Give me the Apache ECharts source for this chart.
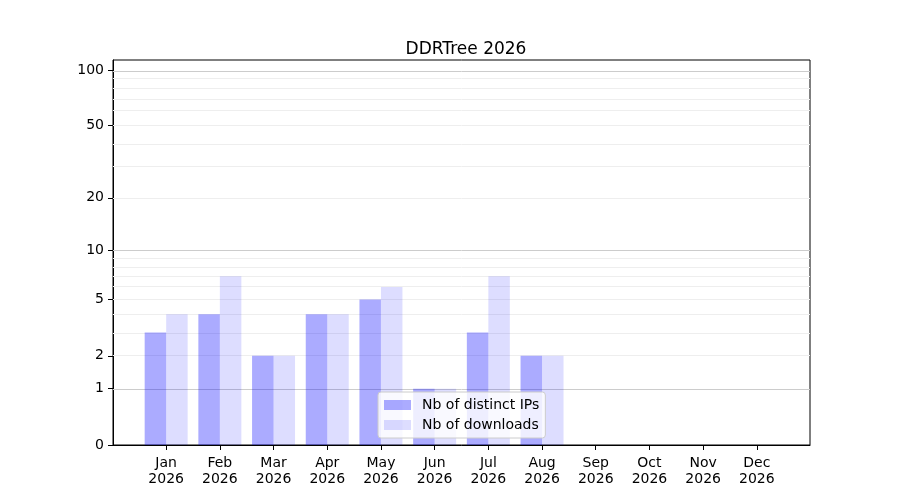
<!DOCTYPE html>
<html>
<head>
<meta charset="utf-8">
<script src="https://cdn.jsdelivr.net/npm/echarts@6/dist/echarts.min.js"></script>
<style>
  html, body { margin: 0; padding: 0; background: #fff; }
  #main { width: 900px; height: 500px; }
</style>
</head>
<body>
<div id="main"></div>
<script>
// data
const months = ['Jan', 'Feb', 'Mar', 'Apr', 'May', 'Jun', 'Jul', 'Aug', 'Sep', 'Oct', 'Nov', 'Dec'];
const year = '2026';
const distinctIps = [3, 4, 2, 4, 5, 1, 3, 2, 0, 0, 0, 0];
const downloads = [4, 7, 2, 4, 6, 1, 7, 2, 0, 0, 0, 0];
const yTicks = [0, 1, 2, 5, 10, 20, 50, 100];
const majorGrid = [1, 10, 100];
const minorGrid = [2, 3, 4, 5, 6, 7, 8, 9, 20, 30, 40, 50, 60, 70, 80, 90];

// y scale: log10(1 + v)
const f = v => Math.log10(1 + v);
const fInv = t => Math.round(Math.pow(10, t) - 1);

const font = 'DejaVu Sans';

function chart() {
    let myChart = echarts.init(document.querySelector('#main'));
    let gridLines = majorGrid.map(v => ({ yAxis: f(v), lineStyle: { color: '#cccccc' } }))
        .concat(minorGrid.map(v => ({ yAxis: f(v), lineStyle: { color: '#eeeeee' } })));
    let option = {
        animation: false,
        title: {
            text: 'DDRTree 2026',
            left: 461,
            textAlign: 'center',
            top: 36,
            textStyle: { fontFamily: font, fontSize: 17, fontWeight: 'normal', color: '#000' }
        },
        legend: {
            orient: 'vertical',
            left: 378,
            top: 392,
            padding: [6, 6, 6, 6],
            itemWidth: 27,
            itemHeight: 10,
            itemGap: 6,
            icon: 'rect',
            backgroundColor: 'rgba(255,255,255,0.8)',
            borderColor: '#cccccc',
            borderWidth: 1,
            borderRadius: 3,
            textStyle: { fontFamily: font, fontSize: 14, color: '#000', padding: [0, 0, 0, 6] },
            data: ['Nb of distinct IPs', 'Nb of downloads']
        },
        grid: {
            left: 113,
            right: 90,
            top: 60,
            bottom: 55,
            show: true,
            borderColor: '#000',
            borderWidth: 1
        },
        xAxis: {
            type: 'value',
            min: -0.99,
            max: 11.99,
            splitLine: { show: false },
            axisLine: { onZero: false, lineStyle: { color: '#000' } },
            axisTick: {
                customValues: months.map((m, i) => i),
                length: 5,
                lineStyle: { color: '#000' }
            },
            axisLabel: {
                customValues: months.map((m, i) => i),
                formatter: v => months[Math.round(v)] + '\n' + year,
                fontFamily: font,
                fontSize: 14,
                color: '#000',
                lineHeight: 16,
                margin: 10
            }
        },
        yAxis: {
            type: 'value',
            min: 0,
            max: 2.059,
            splitLine: { show: false },
            axisLine: { show: true, onZero: false, lineStyle: { color: '#000' } },
            axisTick: {
                show: true,
                customValues: yTicks.map(f),
                length: 5,
                lineStyle: { color: '#000' }
            },
            axisLabel: {
                customValues: yTicks.map(f),
                formatter: v => String(fInv(v)),
                fontFamily: font,
                fontSize: 14,
                color: '#000',
                margin: 9
            }
        },
        series: [
            {
                name: 'Nb of distinct IPs',
                type: 'bar',
                barWidth: 21.5,
                barGap: '0%',
                itemStyle: { color: 'rgba(0,0,255,0.33)' },
                data: distinctIps.map((v, i) => [i, f(v)]),
                markLine: {
                    silent: true,
                    symbol: 'none',
                    label: { show: false },
                    lineStyle: { type: 'solid', width: 1 },
                    z: 1,
                    data: gridLines
                }
            },
            {
                name: 'Nb of downloads',
                type: 'bar',
                barWidth: 21.5,
                barGap: '0%',
                itemStyle: { color: 'rgba(0,0,255,0.133)' },
                data: downloads.map((v, i) => [i, f(v)])
            }
        ]
    };
    myChart.setOption(option);
}
chart();
</script>
</body>
</html>
